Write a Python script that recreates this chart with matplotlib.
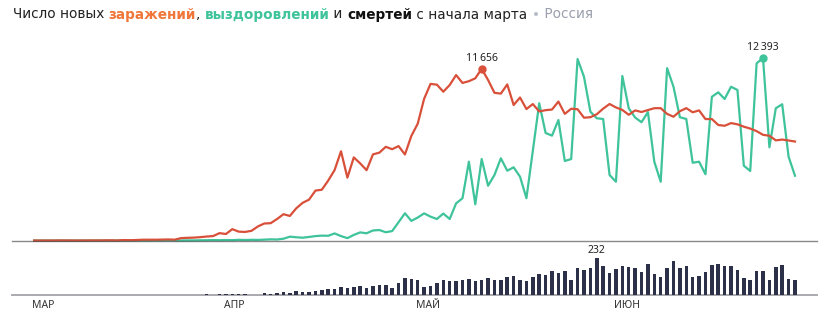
import matplotlib
matplotlib.use("Agg")
import matplotlib.pyplot as plt
import matplotlib.transforms as mtransforms
import numpy as np
import pandas as pd

plt.rcParams["font.family"] = ["Noto Sans", "DejaVu Sans"]

# ---- data: Russia, daily figures from 2 March to 29 June 2020 ----
first_day = "2020-03-02"
last_day = "2020-06-29"

cases_march = [1, 0, 0, 1, 6, 4, 3, 0, 3, 8, 6, 11, 14, 4, 30, 21, 33, 52, 54, 53,
               61, 71, 57, 163, 182, 196, 228, 270, 302, 500]
cases_april = [440, 771, 601, 582, 658, 954, 1154, 1175, 1459, 1786, 1667, 2186, 2558,
               2774, 3388, 3448, 4070, 4785, 6060, 4268, 5642, 5236, 4774, 5849, 5966,
               6361, 6198, 6411, 5841, 7099]
cases_may = [7933, 9623, 10633, 10581, 10102, 10559, 11231, 10699, 10817, 11012, 11656,
             10899, 10028, 9974, 10598, 9200, 9709, 8926, 9263, 8764, 8849, 8894, 9434,
             8599, 8946, 8915, 8338, 8371, 8572, 8952, 9268]
cases_june = [9035, 8863, 8536, 8831, 8726, 8855, 8984, 8985, 8595, 8404, 8779, 8987,
              8706, 8835, 8246, 8248, 7843, 7790, 7972, 7889, 7728, 7600, 7425, 7176,
              7113, 6800, 6852, 6791, 6719]

recovered_march = [0, 0, 0, 0, 0, 0, 0, 0, 0, 0, 0, 0, 2, 0, 0, 3, 0, 3, 0, 9,
                   0, 8, 0, 0, 7, 6, 15, 19, 27, 21]
recovered_april = [31, 22, 45, 34, 46, 40, 57, 79, 69, 120, 260, 220, 190, 240, 300,
                   330, 320, 480, 300, 160, 380, 550, 490, 680, 710, 560, 640, 1240,
                   1850, 1330]
recovered_may = [1560, 1840, 1620, 1460, 1830, 1460, 2520, 2870, 5350, 2460, 5530, 3720,
                 4450, 5580, 4740, 4970, 4330, 2870, 6090, 9320, 7300, 7120, 8180, 5400,
                 5530, 12320, 11120, 8750, 8300, 8250, 4450]
recovered_june = [3990, 11170, 8980, 8350, 8030, 8720, 5350, 3990, 11700, 10440, 8370,
                  8250, 5280, 5350, 4500, 9760, 10060, 9610, 10440, 10220, 5080, 4720,
                  12030, 12393, 6330, 8980, 9250, 5690, 4400]

deaths_march = [0] * 23 + [1, 0, 1, 1, 5, 1, 8]
deaths_april = [7, 6, 4, 9, 2, 2, 11, 5, 13, 18, 12, 24, 18, 22, 28, 34, 41, 40, 48, 44,
                51, 57, 42, 60, 66, 66, 47, 73, 108, 101]
deaths_may = [96, 53, 58, 76, 95, 86, 88, 98, 104, 88, 94, 107, 96, 93, 113, 119, 94, 91,
              115, 135, 127, 150, 139, 153, 92, 174, 161, 174, 232, 181, 138]
deaths_june = [162, 182, 178, 169, 144, 197, 134, 112, 171, 216, 171, 181, 113, 119, 143,
               193, 194, 182, 181, 161, 109, 95, 153, 154, 92, 176, 188, 104, 93]

month_labels = ["МАР", "АПР", "МАЙ", "ИЮН"]

title_parts = [
    ("Число новых ", "#222222", "normal"),
    ("заражений", "#f0763a", "bold"),
    (", ", "#222222", "normal"),
    ("выздоровлений", "#3ec39a", "bold"),
    (" и ", "#222222", "normal"),
    ("смертей", "#111111", "bold"),
    (" с начала марта ", "#222222", "normal"),
    ("•", "#b8bcc6", "normal"),
    (" Россия", "#9aa0ad", "normal"),
]

# ---- assemble series ----
dates = pd.date_range(first_day, last_day, freq="D")
origin = pd.Timestamp("2020-03-01")
days = np.asarray((dates - origin).days, dtype=float)
cases = np.array(cases_march + cases_april + cases_may + cases_june)
recovered = np.array(recovered_march + recovered_april + recovered_may + recovered_june)
deaths = np.array(deaths_march + deaths_april + deaths_may + deaths_june)

RED = "#d9503a"
GREEN = "#3ec39a"
NAVY = "#2c3149"

W, H = 824, 324
fig = plt.figure(figsize=(W / 100, H / 100), dpi=100)


def axes_px(left, top, right, bottom):
    a = fig.add_axes([left / W, 1 - bottom / H, (right - left) / W, (bottom - top) / H])
    a.set_axis_off()
    return a


px_per_day = 6.394
x_first = 27.7  # pixel of 1 March
xlim = ((12 - x_first) / px_per_day, (817 - x_first) / px_per_day)

ax = axes_px(12, 30, 817, 240.5)
ax.set_xlim(*xlim)
ax.set_ylim(0, (240.5 - 30) * 67.9)

axb = axes_px(12, 245, 817, 295)
axb.set_xlim(*xlim)
axb.set_ylim(0, 50 * 6.33)

# lines
ax.plot(days, recovered, color=GREEN, lw=1.6, solid_joinstyle="round", zorder=3,
        clip_on=False)
ax.plot(days, cases, color=RED, lw=1.6, solid_joinstyle="round", zorder=4, clip_on=False)
ax.axhline(0, color="#3a3a3a", lw=1.0, alpha=0.6, zorder=5, clip_on=False)

# peak markers and labels
for series, color in ((cases, RED), (recovered, GREEN)):
    i = int(np.argmax(series))
    ax.plot(days[i], series[i], "o", ms=5, color=color, zorder=6, clip_on=False)
    ax.annotate(f"{series[i]:,}".replace(",", "\u2009"), (days[i], series[i]),
                xytext=(0, 7.7), textcoords="offset points", ha="center", va="center",
                fontsize=7.5, color="#222222", annotation_clip=False)

# deaths bars
axb.axhline(0, color="#a3a3a8", lw=1.3, zorder=1, clip_on=False)
axb.bar(days, deaths, width=0.55, color=NAVY, zorder=2)
j = int(np.argmax(deaths))
axb.annotate(str(deaths[j]), (days[j], deaths[j]), xytext=(0, 6), textcoords="offset points",
             ha="center", va="center", fontsize=7.5, color="#222222", annotation_clip=False)

# month labels
trans = mtransforms.blended_transform_factory(axb.transData, fig.transFigure)
month_starts = pd.date_range("2020-03-01", last_day, freq="MS")
for label, ms in zip(month_labels, month_starts):
    d = max((ms - origin).days, days[0]) - 0.3
    fig.text(d, 1 - 306 / H, label, transform=trans, ha="left", va="center",
             fontsize=7.5, color="#333333")

# multi-coloured title
fig.canvas.draw()
renderer = fig.canvas.get_renderer()
title_font = dict(fontsize=9.85, family="DejaVu Sans")


def text_width(s, **kw):
    probe = fig.text(0, 0, "|" + s + "|", **kw)
    bar = fig.text(0, 0, "||", **kw)
    w = probe.get_window_extent(renderer).width - bar.get_window_extent(renderer).width
    probe.remove()
    bar.remove()
    return w


x = 12.7
for s, color, weight in title_parts:
    kw = dict(title_font, fontweight=weight)
    fig.text(x / W, 1 - 18.5 / H, s, color=color, ha="left", va="baseline", **kw)
    x += text_width(s, **kw)

fig.savefig("out.png", dpi=100, facecolor="white")
